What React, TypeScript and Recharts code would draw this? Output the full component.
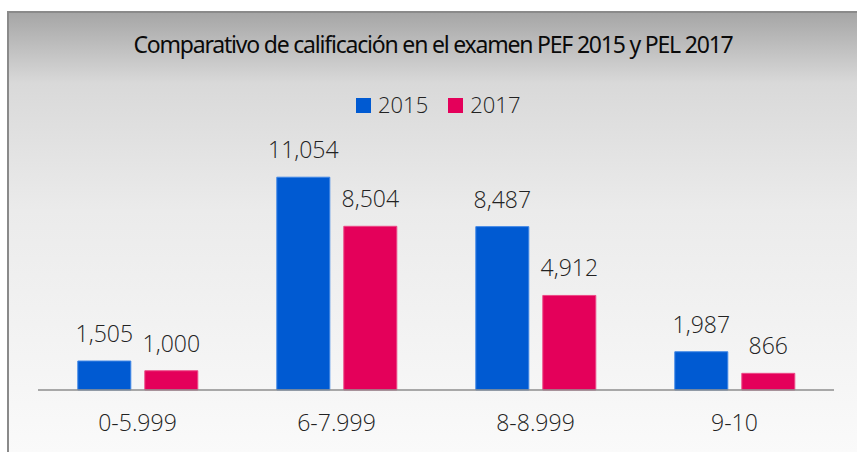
import React from "react";
import { BarChart, Bar, XAxis, YAxis, LabelList } from "recharts";

const categorias = ["0-5.999", "6-7.999", "8-8.999", "9-10"];
const valores2015 = [1505, 11054, 8487, 1987];
const valores2017 = [1000, 8504, 4912, 866];

const series = [
  { key: "v2015", nome: "2015", cor: "#005ad2", borda: "#3f86e6" },
  { key: "v2017", nome: "2017", cor: "#e4005a", borda: "#ec4a86" },
];

const dados = categorias.map((c, i) => ({
  name: c,
  v2015: valores2015[i],
  v2017: valores2017[i],
}));

const FONTE = "'Open Sans', 'Noto Sans', sans-serif";
const FONTE_TITULO = "'Noto Sans', 'Open Sans', sans-serif";
const numero = (v: number) => v.toLocaleString("en-US");

export default function App() {
  return (
    <div
      style={{
        position: "absolute",
        left: 7,
        top: 11,
        width: 850,
        height: 441,
        boxSizing: "border-box",
        borderLeft: "2px solid #8a8a8a",
        borderTop: "2px solid #8a8a8a",
        background: "linear-gradient(to bottom, #a6a6a6 0%, #d9d9d9 16%, #ebebeb 45%, #fafafa 100%)",
        fontFamily: FONTE,
        overflow: "hidden",
      }}
    >
      {/* título */}
      <div
        style={{
          position: "absolute",
          top: 20,
          left: 0,
          width: 848,
          textAlign: "center",
          fontFamily: FONTE_TITULO,
          fontSize: 23,
          lineHeight: "23px",
          letterSpacing: -1.2,
          color: "#0a0a0a",
          whiteSpace: "nowrap",
        }}
      >
        Comparativo de calificación en el examen PEF 2015 y PEL 2017
      </div>

      {/* legenda */}
      <div style={{ position: "absolute", top: 80, left: 347, display: "flex", alignItems: "flex-start" }}>
        {series.map((s, i) => (
          <div key={s.key} style={{ display: "flex", alignItems: "flex-start", marginLeft: i ? 20 : 0 }}>
            <span style={{ width: 15, height: 15, marginTop: 5, marginRight: 7, background: s.cor }} />
            <span style={{ fontSize: 22, lineHeight: "22px", fontWeight: 300, color: "#222" }}>{s.nome}</span>
          </div>
        ))}
      </div>

      <BarChart
        width={848}
        height={439}
        data={dados}
        margin={{ top: 146, right: 23, bottom: 0, left: 29 }}
        barCategoryGap="20%"
        barGap={14}
      >
        <XAxis
          dataKey="name"
          height={62}
          tickLine={false}
          tickSize={0}
          tickMargin={25}
          axisLine={{ stroke: "#8e8e8e", strokeWidth: 1.5 }}
          tick={{ fill: "#222", fontSize: 23, fontWeight: 300, fontFamily: FONTE }}
        />
        <YAxis hide domain={[0, 12000]} />
        {series.map((s) => (
          <Bar key={s.key} dataKey={s.key} fill={s.cor} stroke={s.borda} strokeWidth={1} isAnimationActive={false}>
            <LabelList
              dataKey={s.key}
              position="top"
              offset={19}
              formatter={(v: number) => numero(v)}
              style={{ fill: "#222", fontSize: 23, fontWeight: 300, fontFamily: FONTE }}
            />
          </Bar>
        ))}
      </BarChart>
    </div>
  );
}
